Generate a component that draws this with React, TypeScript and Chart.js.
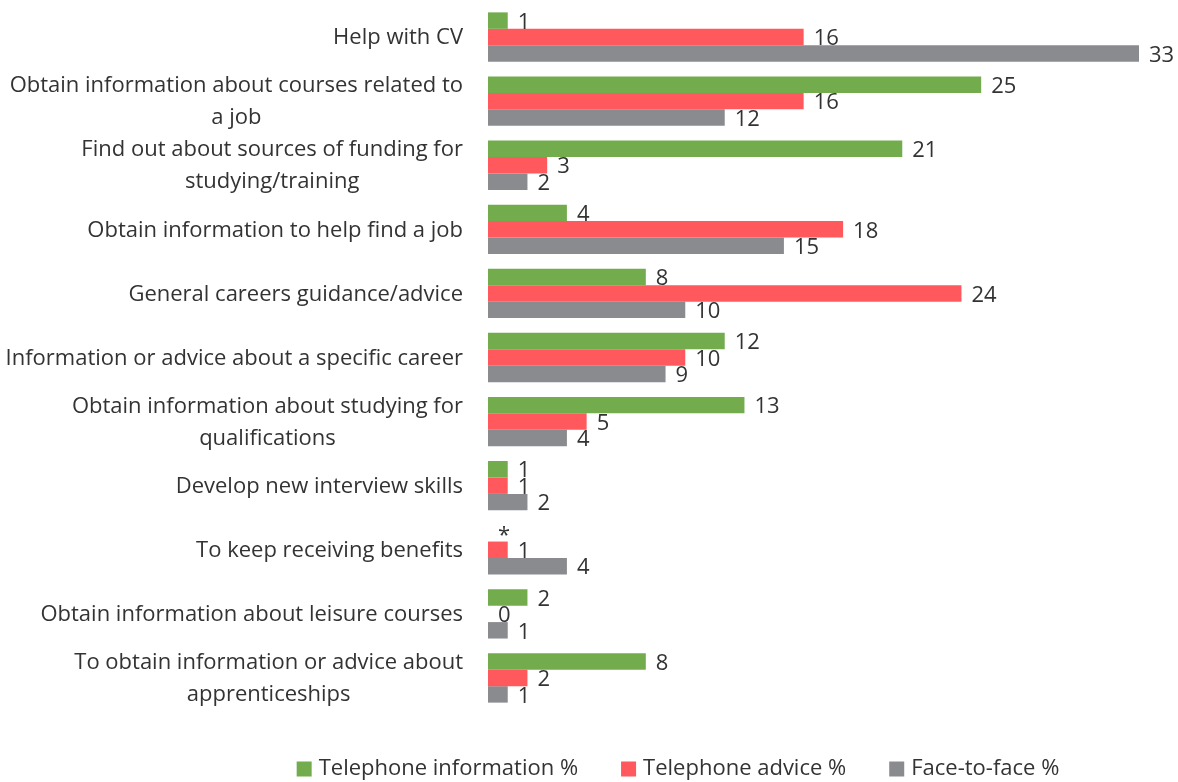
import React, { useEffect, useRef } from "react";
import { Chart, registerables } from "chart.js";

Chart.register(...registerables);

const categories: string[][] = [
  ["Help with CV"],
  ["Obtain information about courses related to", "a job"],
  ["Find out about sources of funding for", "studying/training"],
  ["Obtain information to help find a job"],
  ["General careers guidance/advice"],
  ["Information or advice about a specific career"],
  ["Obtain information about studying for", "qualifications"],
  ["Develop new interview skills"],
  ["To keep receiving benefits"],
  ["Obtain information about leisure courses"],
  ["To obtain information or advice about", "apprenticeships"],
];

// null = shown as "*" in the source
const telephoneInformation: (number | null)[] = [1, 25, 21, 4, 8, 12, 13, 1, null, 2, 8];
const telephoneAdvice: (number | null)[] = [16, 16, 3, 18, 24, 10, 5, 1, 1, 0, 2];
const faceToFace: (number | null)[] = [33, 12, 2, 15, 10, 9, 4, 2, 4, 1, 1];

const seriesNames = ["Telephone information %", "Telephone advice %", "Face-to-face %"];
const seriesColors = ["#72AC4D", "#FF585D", "#898B8E"];

const FONT = '"Open Sans", sans-serif';
const TEXT_COLOR = "#333333";

const textPlugin = {
  id: "customText",
  afterDatasetsDraw(chart: any) {
    const ctx = chart.ctx as CanvasRenderingContext2D;
    const xs = chart.scales.x;
    const ys = chart.scales.y;
    ctx.save();

    // value labels
    ctx.font = `22px ${FONT}`;
    ctx.fillStyle = TEXT_COLOR;
    ctx.textAlign = "left";
    ctx.textBaseline = "middle";
    chart.data.datasets.forEach((ds: any, di: number) => {
      const meta = chart.getDatasetMeta(di);
      meta.data.forEach((el: any, i: number) => {
        const v = ds.data[i];
        const end = xs.getPixelForValue(v == null ? 0 : v);
        ctx.fillText(v == null ? "*" : String(v), end + 10, el.y + 2);
      });
    });

    // category labels (block right-aligned, lines centred)
    ctx.font = `22px ${FONT}`;
    ctx.textAlign = "center";
    const lh = 32;
    categories.forEach((lines, i) => {
      const cy = ys.getPixelForValue(i);
      const w = Math.max(...lines.map((l) => ctx.measureText(l).width));
      const cx = chart.chartArea.left - 25 - w / 2;
      lines.forEach((l, k) => {
        ctx.fillText(l, cx, cy + (k - (lines.length - 1) / 2) * lh + 1);
      });
    });

    // legend
    ctx.textAlign = "left";
    const box = 15;
    const gap = 7;
    const spacing = 43;
    const widths = seriesNames.map((n) => box + gap + ctx.measureText(n).width);
    const total = widths.reduce((a, b) => a + b, 0) + spacing * (seriesNames.length - 1);
    let sx = 678 - total / 2;
    const ly = 769;
    seriesNames.forEach((n, i) => {
      ctx.fillStyle = seriesColors[i];
      ctx.fillRect(sx, ly - box / 2, box, box);
      ctx.fillStyle = TEXT_COLOR;
      ctx.fillText(n, sx + box + gap, ly);
      sx += widths[i] + spacing;
    });

    ctx.restore();
  },
};

export default function App() {
  const ref = useRef<HTMLCanvasElement>(null);

  useEffect(() => {
    if (!ref.current) return;
    const seriesData = [telephoneInformation, telephoneAdvice, faceToFace];
    const chart = new Chart(ref.current, {
      type: "bar",
      data: {
        labels: categories.map((c) => c.join(" ")),
        datasets: seriesData.map((d, i) => ({
          label: seriesNames[i],
          data: d,
          backgroundColor: seriesColors[i],
          borderWidth: 0,
          categoryPercentage: 0.77,
          barPercentage: 1,
        })),
      },
      options: {
        indexAxis: "y",
        responsive: true,
        maintainAspectRatio: false,
        animation: false,
        layout: { padding: { top: 5, bottom: 72, right: 39, left: 0 } },
        plugins: {
          legend: { display: false },
          tooltip: { enabled: false },
        },
        scales: {
          x: { min: 0, max: 33, display: false },
          y: {
            ticks: { display: false },
            grid: { display: false },
            border: { display: false },
            afterFit(scale: any) {
              scale.width = 488;
            },
          },
        },
      } as any,
      plugins: [textPlugin],
    });
    return () => chart.destroy();
  }, []);

  return (
    <div style={{ position: "fixed", left: 0, top: 0, width: 1178, height: 782, background: "#fff" }}>
      <canvas ref={ref} />
    </div>
  );
}
